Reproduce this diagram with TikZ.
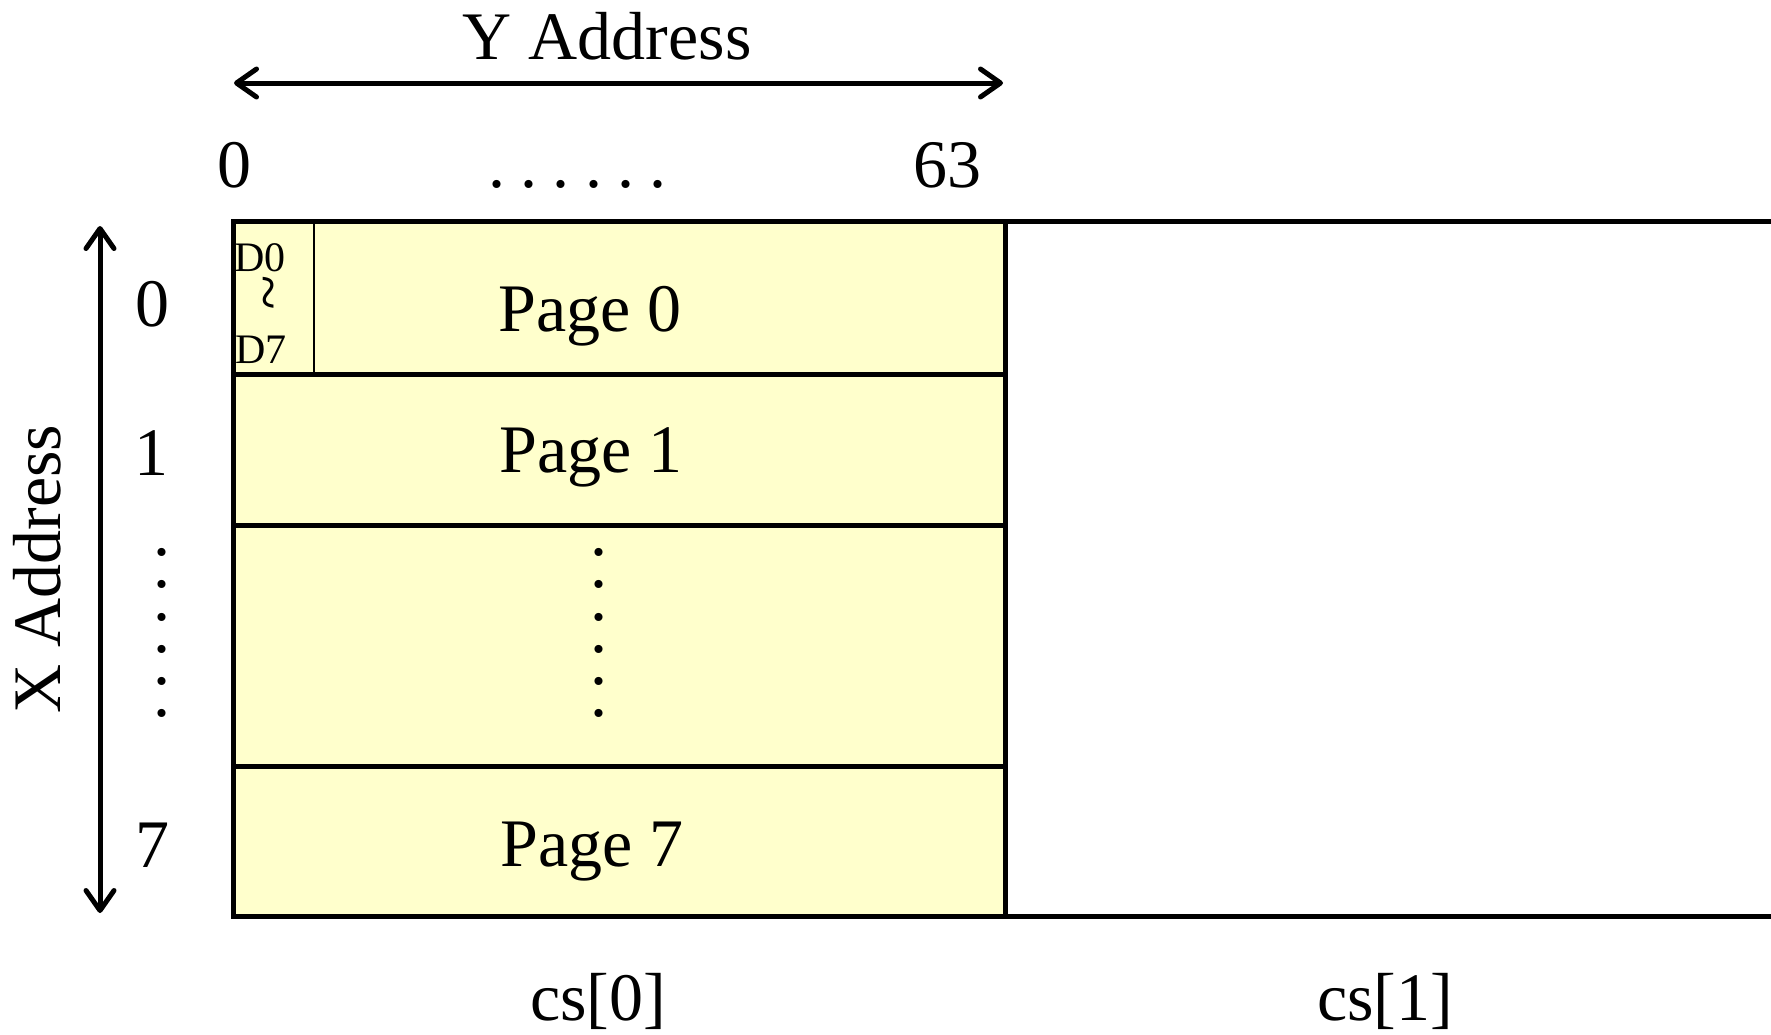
\documentclass[tikz,border=0pt]{standalone}
\usepackage{fontspec}
\setmainfont{Liberation Serif}
\usetikzlibrary{arrows.meta}
\definecolor{pagefill}{RGB}{255,255,204}
\begin{document}
\begin{tikzpicture}[x=0.5pt,y=-0.5pt,
  lbl/.style={font=\fontsize{34}{40}\selectfont, inner sep=0pt, anchor=base},
  smalllbl/.style={font=\fontsize{21}{25}\selectfont, inner sep=0pt, anchor=base},
  boxline/.style={line width=2.5pt},
  thinline/.style={line width=1pt},
  dblarrow/.style={line width=2.5pt, line cap=round,
    {Straight Barb[length=10pt,width=14pt,round]}-{Straight Barb[length=10pt,width=14pt,round]}},
  vdots/.style={font=\fontsize{34}{16.1}\selectfont, inner sep=0pt, align=center, anchor=south}
]
\useasboundingbox (0,0) rectangle (1771,1034);

% memory block cs[0]
\fill[pagefill] (233,221) rectangle (1005,916);
\draw[boxline] (233,221) rectangle (1005,916);
\draw[boxline] (233,374) -- (1005,374);
\draw[boxline] (233,525) -- (1005,525);
\draw[boxline] (233,766) -- (1005,766);
\draw[thinline] (314,221) -- (314,374);

% block cs[1]
\draw[boxline] (1005,221) -- (1795,221);
\draw[boxline] (1005,916) -- (1795,916);

% Y address arrow
\node[lbl] (yaddr) at (607,59) {Y Address};
\coordinate (ya) at (234,83);
\coordinate (yb) at (1003,83);
\draw[dblarrow] (ya) -- (yb);

\node[lbl] (y0) at (234,187) {0};
\node[lbl] (y63) at (947,187) {63};
\node[lbl] (hdots) at (577.5,187) {.\hspace{7.6pt}.\hspace{7.6pt}.\hspace{7.6pt}.\hspace{7.6pt}.\hspace{7.6pt}.};

% X address arrow
\node[lbl, rotate=90] (xaddr) at (60,569) {X Address};
\coordinate (xa) at (100,226);
\coordinate (xb) at (100,913);
\draw[dblarrow] (xa) -- (xb);

\node[lbl] (x0) at (152,326) {0};
\node[lbl] (x1) at (151,475) {1};
\node[lbl] (x7) at (152,867) {7};
\node[vdots] (ldots) at (162,718) {.\\.\\.\\.\\.\\.};
\node[vdots] (mdots) at (599,718) {.\\.\\.\\.\\.\\.};

% page labels
\node[lbl] (p0) at (590,331) {Page 0};
\node[lbl] (p1) at (591,472) {Page 1};
\node[lbl] (p7) at (592,866) {Page 7};

% D0 ~ D7
\node[smalllbl] (d0) at (260,271) {D0};
\node[inner sep=0pt, rotate=-90, font=\fontsize{32}{36}\selectfont] (tl) at (261,293) {\textasciitilde};
\node[smalllbl] (d7) at (261,363) {D7};

% chip selects
\node[lbl] (cs0) at (598,1020) {cs[0]};
\node[lbl] (cs1) at (1385,1020) {cs[1]};
\end{tikzpicture}
\end{document}
